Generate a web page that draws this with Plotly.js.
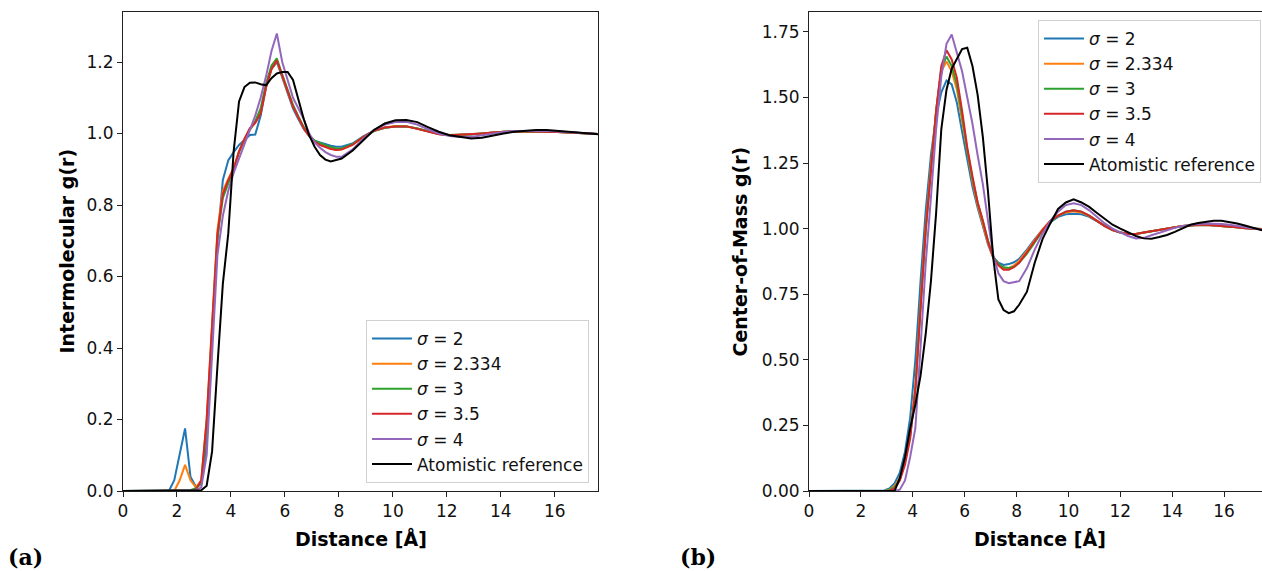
<!DOCTYPE html>
<html>
<head>
<meta charset="utf-8">
<script src="https://cdn.plot.ly/plotly-3.0.1.min.js"></script>
<style>html,body{margin:0;padding:0;background:#fff;}#chart{width:1262px;height:571px;}</style>
</head>
<body>
<div id="chart"></div>
<script>
// ---------- Data: (a) Intermolecular g(r) ----------
const xL = [0, 1.5, 1.7, 1.9, 2.1, 2.3, 2.5, 2.7, 2.9,
  3.1, 3.3, 3.5, 3.7, 3.9, 4.1, 4.3, 4.5, 4.7, 4.9,
  5.1, 5.3, 5.5, 5.7, 5.9, 6.1, 6.3, 6.5, 6.7, 6.9,
  7.1, 7.3, 7.5, 7.7, 7.9, 8.1, 8.5, 8.9, 9.3, 9.7,
  10.1, 10.5, 10.9, 11.3, 11.7, 12.1, 12.5, 12.9, 13.3, 13.7,
  14.1, 14.5, 14.9, 15.3, 15.7, 16.1, 16.5, 16.9, 17.3, 17.7];

const interS2 = [0, 0, 0, 0.03, 0.1, 0.175, 0.04, 0.012, 0.02,
  0.13, 0.42, 0.7, 0.87, 0.925, 0.948, 0.968, 0.982, 0.996, 0.997,
  1.05, 1.13, 1.18, 1.2, 1.155, 1.115, 1.07, 1.04, 1.012, 0.993,
  0.98, 0.975, 0.97, 0.966, 0.963, 0.963, 0.972, 0.992, 1.008, 1.016,
  1.02, 1.02, 1.014, 1.006, 0.999, 0.995, 0.995, 0.997, 1.0, 1.003,
  1.005, 1.006, 1.007, 1.007, 1.006, 1.005, 1.004, 1.002, 1.0, 0.998];
const interS2334 = [0, 0, 0, 0, 0.03, 0.073, 0.03, 0.01, 0.03,
  0.2, 0.47, 0.73, 0.84, 0.875, 0.905, 0.95, 0.985, 1.012, 1.03,
  1.06, 1.13, 1.18, 1.205, 1.16, 1.12, 1.075, 1.045, 1.015, 0.993,
  0.978, 0.97, 0.963, 0.958, 0.955, 0.956, 0.968, 0.99, 1.008, 1.017,
  1.021, 1.02, 1.014, 1.006, 0.999, 0.996, 0.996, 0.998, 1.0, 1.003,
  1.005, 1.006, 1.006, 1.006, 1.005, 1.004, 1.003, 1.002, 1.0, 0.998];
const interS3 = [0, 0, 0, 0, 0, 0, 0.002, 0.008, 0.02,
  0.18, 0.45, 0.71, 0.82, 0.86, 0.9, 0.948, 0.982, 1.01, 1.035,
  1.07, 1.14, 1.19, 1.21, 1.165, 1.125, 1.08, 1.048, 1.018, 0.995,
  0.98, 0.973, 0.967, 0.962, 0.958, 0.958, 0.97, 0.99, 1.007, 1.016,
  1.02, 1.02, 1.014, 1.006, 0.999, 0.996, 0.996, 0.998, 1.0, 1.003,
  1.005, 1.006, 1.006, 1.006, 1.005, 1.004, 1.003, 1.002, 1.0, 0.998];
const interS35 = [0, 0, 0, 0, 0, 0, 0, 0.003, 0.03,
  0.2, 0.47, 0.72, 0.83, 0.87, 0.9, 0.95, 0.985, 1.015, 1.03,
  1.055, 1.13, 1.18, 1.205, 1.16, 1.12, 1.075, 1.045, 1.015, 0.993,
  0.977, 0.968, 0.962, 0.957, 0.954, 0.955, 0.968, 0.99, 1.008, 1.017,
  1.02, 1.02, 1.013, 1.005, 0.998, 0.995, 0.996, 0.998, 1.0, 1.003,
  1.005, 1.006, 1.006, 1.006, 1.005, 1.004, 1.003, 1.002, 1.0, 0.998];
const interS4 = [0, 0, 0, 0, 0, 0, 0, 0.002, 0.01,
  0.1, 0.38, 0.66, 0.77, 0.84, 0.89, 0.93, 0.97, 1.01, 1.05,
  1.1, 1.16, 1.23, 1.28, 1.2, 1.15, 1.1, 1.07, 1.04, 1.0,
  0.975, 0.96, 0.948, 0.94, 0.935, 0.935, 0.955, 0.985, 1.01, 1.025,
  1.032, 1.033, 1.025, 1.012, 1.0, 0.993, 0.99, 0.99, 0.995, 1.0,
  1.004, 1.007, 1.008, 1.009, 1.008, 1.006, 1.004, 1.002, 1.0, 0.998];
const interAtom = [0, 0, 0, 0, 0, 0, 0, 0, 0.002,
  0.015, 0.11, 0.35, 0.58, 0.72, 0.95, 1.09, 1.13, 1.142, 1.143,
  1.138, 1.135, 1.155, 1.168, 1.172, 1.172, 1.15, 1.095, 1.04, 0.995,
  0.963, 0.94, 0.927, 0.922, 0.925, 0.93, 0.952, 0.982, 1.01, 1.028,
  1.037, 1.038, 1.032, 1.018, 1.005, 0.995, 0.99, 0.986, 0.988, 0.995,
  1.0, 1.005, 1.008, 1.01, 1.01, 1.008, 1.006, 1.003, 1.0, 0.997];

// ---------- Data: (b) Center-of-Mass g(r) ----------
const xR = [0, 2.5, 2.9, 3.1, 3.3, 3.5, 3.7, 3.9, 4.1, 4.3,
  4.5, 4.7, 4.9, 5.1, 5.3, 5.5, 5.7, 5.9, 6.1, 6.3,
  6.5, 6.7, 6.9, 7.1, 7.3, 7.5, 7.7, 7.9, 8.1, 8.4,
  8.7, 9.0, 9.3, 9.6, 9.9, 10.2, 10.5, 10.8, 11.1, 11.4,
  11.7, 12.0, 12.3, 12.6, 12.9, 13.2, 13.5, 13.8, 14.1, 14.4,
  14.7, 15.0, 15.3, 15.6, 15.9, 16.2, 16.5, 16.8, 17.1, 17.5];

const comS2 = [0, 0, 0.002, 0.01, 0.03, 0.07, 0.15, 0.28, 0.5, 0.8,
  1.07, 1.28, 1.43, 1.52, 1.565, 1.55, 1.48, 1.37, 1.26, 1.16,
  1.08, 1.01, 0.94, 0.89, 0.87, 0.862, 0.865, 0.872, 0.885, 0.92,
  0.96, 0.995, 1.025, 1.045, 1.055, 1.057, 1.055, 1.045, 1.028, 1.01,
  0.995, 0.985, 0.98, 0.98, 0.985, 0.99, 0.995, 1.0, 1.005, 1.01,
  1.012, 1.014, 1.014, 1.012, 1.01, 1.007, 1.005, 1.002, 1.0, 0.998];
const comS2334 = [0, 0, 0, 0.005, 0.02, 0.05, 0.12, 0.22, 0.4, 0.72,
  1.01, 1.24, 1.45, 1.6, 1.637, 1.6, 1.53, 1.41, 1.29, 1.18,
  1.09, 1.02, 0.945, 0.89, 0.862, 0.85, 0.85, 0.86, 0.877, 0.915,
  0.958, 0.997, 1.03, 1.05, 1.062, 1.066, 1.062, 1.048, 1.03, 1.01,
  0.995, 0.985, 0.98, 0.98, 0.985, 0.99, 0.995, 1.0, 1.005, 1.01,
  1.012, 1.014, 1.014, 1.012, 1.01, 1.007, 1.005, 1.002, 1.0, 0.998];
const comS3 = [0, 0, 0, 0.003, 0.015, 0.045, 0.11, 0.21, 0.38, 0.7,
  0.99, 1.22, 1.45, 1.61, 1.656, 1.62, 1.55, 1.43, 1.3, 1.19,
  1.1, 1.03, 0.955, 0.895, 0.865, 0.853, 0.85, 0.855, 0.87, 0.905,
  0.95, 0.99, 1.025, 1.05, 1.065, 1.07, 1.065, 1.05, 1.03, 1.01,
  0.995, 0.985, 0.98, 0.98, 0.985, 0.99, 0.995, 1.0, 1.005, 1.01,
  1.012, 1.015, 1.015, 1.013, 1.01, 1.008, 1.005, 1.002, 1.0, 0.998];
const comS35 = [0, 0, 0, 0, 0.01, 0.04, 0.1, 0.2, 0.39, 0.71,
  1.0, 1.22, 1.45, 1.62, 1.68, 1.645, 1.575, 1.45, 1.31, 1.2,
  1.1, 1.03, 0.95, 0.89, 0.86, 0.843, 0.843, 0.853, 0.87, 0.91,
  0.955, 0.995, 1.03, 1.05, 1.065, 1.07, 1.065, 1.05, 1.03, 1.01,
  0.995, 0.985, 0.98, 0.98, 0.985, 0.99, 0.995, 1.0, 1.005, 1.01,
  1.012, 1.015, 1.015, 1.013, 1.01, 1.008, 1.005, 1.002, 1.0, 0.998];
const comS4 = [0, 0, 0, 0, 0, 0.005, 0.04, 0.13, 0.24, 0.55,
  0.87, 1.12, 1.38, 1.58, 1.705, 1.74, 1.67, 1.6, 1.5, 1.4,
  1.28, 1.17, 1.03, 0.9, 0.83, 0.8, 0.792, 0.795, 0.8, 0.85,
  0.92, 0.98, 1.03, 1.065, 1.09, 1.097, 1.09, 1.07, 1.045, 1.02,
  1.0, 0.985, 0.972, 0.963, 0.965, 0.975, 0.985, 0.995, 1.003, 1.01,
  1.015, 1.018, 1.02, 1.02, 1.018, 1.015, 1.01, 1.005, 1.0, 0.995];
const comAtom = [0, 0, 0, 0, 0, 0.05, 0.13, 0.24, 0.33, 0.44,
  0.6, 0.8, 1.06, 1.38, 1.53, 1.61, 1.65, 1.685, 1.69, 1.62,
  1.51, 1.35, 1.14, 0.89, 0.73, 0.69, 0.678, 0.685, 0.71, 0.76,
  0.87, 0.96, 1.02, 1.075, 1.1, 1.112, 1.1, 1.083, 1.06, 1.038,
  1.015, 1.0, 0.987, 0.972, 0.963, 0.962, 0.968, 0.976, 0.988, 1.0,
  1.015, 1.022, 1.027, 1.03, 1.03, 1.026, 1.02, 1.012, 1.005, 0.993];

const seriesNames = ['<i>σ</i> = 2', '<i>σ</i> = 2.334', '<i>σ</i> = 3', '<i>σ</i> = 3.5', '<i>σ</i> = 4', 'Atomistic reference'];
const colors = ['#1f77b4', '#ff7f0e', '#2ca02c', '#d62728', '#9467bd', '#000000'];
const leftSeries = [interS2, interS2334, interS3, interS35, interS4, interAtom];
const rightSeries = [comS2, comS2334, comS3, comS35, comS4, comAtom];
const xTitle = 'Distance [Å]';
const yTitleLeft = 'Intermolecular g(r)';
const yTitleRight = 'Center-of-Mass g(r)';
const panelLabels = ['(a)', '(b)'];

const traces = [];
leftSeries.forEach((ys, i) => {
  traces.push({x: xL, y: ys, type: 'scatter', mode: 'lines', name: seriesNames[i],
    line: {color: colors[i], width: 2}, xaxis: 'x', yaxis: 'y', legend: 'legend'});
});
rightSeries.forEach((ys, i) => {
  traces.push({x: xR, y: ys, type: 'scatter', mode: 'lines', name: seriesNames[i],
    line: {color: colors[i], width: 2}, xaxis: 'x2', yaxis: 'y2', legend: 'legend2'});
});

const FONT = 'DejaVu Sans, sans-serif';
const axBase = {
  showline: true, mirror: true, linecolor: '#222', linewidth: 1,
  showgrid: false, zeroline: false, ticks: 'outside', ticklen: 5, tickwidth: 1, tickcolor: '#222',
  tickfont: {family: FONT, size: 17, color: '#111'}
};
const titleFont = {family: FONT, size: 19, color: '#000'};
const legendBase = {
  bgcolor: 'rgba(255,255,255,0.85)', bordercolor: '#d0d0d0', borderwidth: 1,
  font: {family: FONT, size: 17, color: '#111'}, itemwidth: 40, tracegroupgap: 0
};
const H = 571, W = 1262;
function ann(text, xpx, ypx, angle, font) {
  return {text: text, xref: 'paper', yref: 'paper', x: xpx / W, y: (H - ypx) / H,
    xanchor: 'center', yanchor: 'middle', textangle: angle || 0, showarrow: false, font: font};
}

const layout = {
  width: W, height: H,
  margin: {l: 0, r: 0, t: 0, b: 0},
  paper_bgcolor: '#fff', plot_bgcolor: '#fff',
  showlegend: true,
  xaxis: Object.assign({}, axBase, {domain: [123/W, 598/W], range: [0, 17.6], dtick: 2, tick0: 0, anchor: 'y'}),
  yaxis: Object.assign({}, axBase, {domain: [80/H, 559/H], range: [0, 1.34], dtick: 0.2, tick0: 0,
    tickformat: '.1f', anchor: 'x'}),
  xaxis2: Object.assign({}, axBase, {domain: [809/W, 1], range: [0, 17.46], dtick: 2, tick0: 0, anchor: 'y2'}),
  yaxis2: Object.assign({}, axBase, {domain: [80/H, 559/H], range: [0, 1.826], dtick: 0.25, tick0: 0,
    tickformat: '.2f', anchor: 'x2'}),
  legend: Object.assign({}, legendBase, {x: 589/W, y: 88/H, xanchor: 'right', yanchor: 'bottom'}),
  legend2: Object.assign({}, legendBase, {x: 1261/W, y: 551/H, xanchor: 'right', yanchor: 'top'}),
  annotations: [
    ann('<b>' + xTitle + '</b>', 360.5, 538, 0, titleFont),
    ann('<b>' + xTitle + '</b>', 1040, 538, 0, titleFont),
    ann('<b>' + yTitleLeft + '</b>', 66, 251.5, -90, titleFont),
    ann('<b>' + yTitleRight + '</b>', 739, 251.5, -90, titleFont),
    {text: '<b>' + panelLabels[0] + '</b>', xref: 'paper', yref: 'paper', x: 6/W, y: 14/H, xanchor: 'left', yanchor: 'middle',
      showarrow: false, font: {family: 'DejaVu Serif, serif', size: 22, color: '#000'}},
    {text: '<b>' + panelLabels[1] + '</b>', xref: 'paper', yref: 'paper', x: 678/W, y: 14/H, xanchor: 'left', yanchor: 'middle',
      showarrow: false, font: {family: 'DejaVu Serif, serif', size: 22, color: '#000'}}
  ]
};

Plotly.newPlot('chart', traces, layout, {displayModeBar: false, staticPlot: true});
</script>
</body>
</html>
